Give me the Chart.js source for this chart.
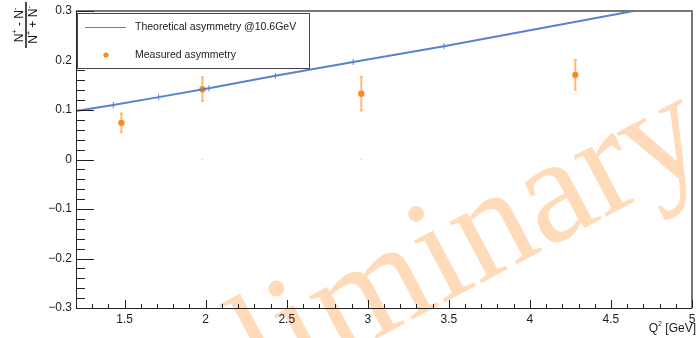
<!DOCTYPE html>
<html>
<head>
<meta charset="utf-8">
<script src="https://cdn.jsdelivr.net/npm/chart.js@4/dist/chart.umd.min.js"></script>
<style>
  html, body { margin: 0; padding: 0; background: #fff; }
  canvas { display: block; }
</style>
</head>
<body>
<canvas id="chart" width="696" height="338"></canvas>
<script>
// theory curve (Q^2 in GeV, asymmetry)
var theoryQ2 = [1.2, 1.43, 1.71, 2.02, 2.43, 2.91, 3.47, 4.64];
var theoryAsym = [0.098, 0.110, 0.126, 0.144, 0.169, 0.197, 0.229, 0.300];
var theoryMarks = [0, 3, 3, 3, 3, 3, 3, 0];

// measured points with their error bars
var measQ2 = [1.48, 1.98, 2.96, 4.28];
var measAsym = [0.074, 0.142, 0.133, 0.171];
var measErr = [0.019, 0.024, 0.034, 0.030];

// faint markers sitting on zero
var zeroQ2 = [1.98, 2.96, 4.28];
var zeroAsym = [0, 0, 0];

var xTickValues = [1.5, 2, 2.5, 3, 3.5, 4, 4.5, 5];
var xTickLabels = ['1.5', '2', '2.5', '3', '3.5', '4', '4.5', '5'];
var yTickValues = [-0.3, -0.2, -0.1, 0, 0.1, 0.2, 0.3];
var yTickLabels = ['\u22120.3', '\u22120.2', '\u22120.1', '0', '0.1', '0.2', '0.3'];

var legendLabels = ['Theoretical asymmetry @10.6GeV', 'Measured asymmetry'];

var SANS = '"Liberation Sans", Arial, sans-serif';
var lineBlue = '#5a80d0';
var dotOrange = '#ff8a1c';

function pts(xs, ys) {
    return xs.map(function(x, i) { return {x: x, y: ys[i]}; });
}

/*
  drawNsup: draws an "N" with a small superscript sign, returns the width used
*/
function drawNsup(ctx, x, y, sign) {
    ctx.font = '12px ' + SANS;
    ctx.fillText('N', x, y);
    var w = ctx.measureText('N').width;
    ctx.font = '7px ' + SANS;
    ctx.fillText(sign, x + w, y - 6);
    return w + ctx.measureText(sign).width;
}

function drawTerm(ctx, cx, y, op) {
    // measure first so the whole term can be centred
    ctx.font = '12px ' + SANS;
    var wN = ctx.measureText('N').width;
    var wOp = ctx.measureText(' ' + op + ' ').width;
    ctx.font = '7px ' + SANS;
    var wP = ctx.measureText('+').width, wM = ctx.measureText('-').width;
    var total = wN + wP + wOp + wN + wM;
    var x = cx - total / 2;
    x += drawNsup(ctx, x, y, '+');
    ctx.font = '12px ' + SANS;
    ctx.fillText(' ' + op + ' ', x, y);
    x += wOp;
    drawNsup(ctx, x, y, '-');
}

var rootStyle = {
    id: 'rootStyle',
    beforeDraw: function(chart) {
        var ctx = chart.ctx;
        ctx.save();
        ctx.fillStyle = '#fff';
        ctx.fillRect(0, 0, chart.width, chart.height);
        // the "Preliminary" stamp across the pad
        ctx.translate(265, 398);
        ctx.rotate(-28 * Math.PI / 180);
        ctx.font = '150px "Liberation Serif", "DejaVu Serif", serif';
        ctx.fillStyle = 'rgba(255, 160, 70, 0.38)';
        ctx.textBaseline = 'alphabetic';
        var pre = ctx.measureText('Pre').width;
        ctx.fillText('Preliminary', -pre, 0);
        ctx.restore();
    },
    beforeDatasetsDraw: function(chart) {
        var ctx = chart.ctx, xs = chart.scales.x, ys = chart.scales.y;
        ctx.save();
        ctx.strokeStyle = 'rgba(255, 140, 30, 0.6)';
        ctx.lineWidth = 2;
        measQ2.forEach(function(q, i) {
            var px = xs.getPixelForValue(q);
            var top = ys.getPixelForValue(measAsym[i] + measErr[i]);
            var bot = ys.getPixelForValue(measAsym[i] - measErr[i]);
            ctx.beginPath();
            ctx.moveTo(px, top); ctx.lineTo(px, bot);
            ctx.moveTo(px - 1.5, top); ctx.lineTo(px + 1.5, top);
            ctx.moveTo(px - 1.5, bot); ctx.lineTo(px + 1.5, bot);
            ctx.stroke();
        });
        ctx.restore();
    },
    afterDraw: function(chart) {
        var ctx = chart.ctx, xs = chart.scales.x, ys = chart.scales.y;
        var a = chart.chartArea;
        ctx.save();

        // frame: top and right in grey
        ctx.strokeStyle = '#777';
        ctx.lineWidth = 2;
        ctx.beginPath();
        ctx.moveTo(a.left, a.top); ctx.lineTo(a.right, a.top); ctx.lineTo(a.right, a.bottom);
        ctx.stroke();

        // axes
        ctx.strokeStyle = '#222';
        ctx.lineWidth = 1;
        ctx.beginPath();
        ctx.moveTo(a.left + 0.5, a.top); ctx.lineTo(a.left + 0.5, a.bottom + 0.5);
        ctx.lineTo(a.right, a.bottom + 0.5);
        ctx.stroke();

        // x ticks, pointing up into the pad
        ctx.beginPath();
        for (var k = 13; k <= 50; k++) {
            var px = Math.round(xs.getPixelForValue(k / 10)) + 0.5;
            var len = (k % 5 === 0) ? 8 : 4;
            ctx.moveTo(px, a.bottom); ctx.lineTo(px, a.bottom - len);
        }
        // y ticks, pointing right
        for (var j = -15; j <= 15; j++) {
            var py = Math.round(ys.getPixelForValue(j / 50)) + 0.5;
            var ylen = (j % 5 === 0) ? 18 : 9;
            ctx.moveTo(a.left, py); ctx.lineTo(a.left + ylen, py);
        }
        ctx.stroke();

        // legend box
        ctx.fillStyle = '#fff';
        ctx.fillRect(77.5, 13.5, 232, 55);
        ctx.strokeStyle = '#444';
        ctx.strokeRect(77.5, 13.5, 232, 55);
        ctx.strokeStyle = lineBlue;
        ctx.lineWidth = 1;
        ctx.beginPath();
        ctx.moveTo(85, 27.5); ctx.lineTo(126, 27.5);
        ctx.stroke();
        ctx.fillStyle = dotOrange;
        ctx.beginPath();
        ctx.arc(106, 55, 2.6, 0, Math.PI * 2);
        ctx.fill();
        ctx.fillStyle = '#1a1a1a';
        ctx.font = '10.5px ' + SANS;
        ctx.textBaseline = 'middle';
        ctx.fillText(legendLabels[0], 135, 27);
        ctx.fillText(legendLabels[1], 135, 55);

        // x title
        ctx.textAlign = 'right';
        ctx.textBaseline = 'alphabetic';
        ctx.font = '12px ' + SANS;
        ctx.fillText('[GeV]', 696, 332);
        var wg = ctx.measureText(' [GeV]').width;
        ctx.fillText('Q', 696 - wg - 4, 332);
        ctx.textAlign = 'left';
        ctx.font = '7px ' + SANS;
        ctx.fillText('2', 696 - wg - 4, 326);

        // y title, a rotated fraction
        ctx.translate(26, 25);
        ctx.rotate(-Math.PI / 2);
        ctx.fillStyle = '#111';
        ctx.strokeStyle = '#111';
        ctx.lineWidth = 1.5;
        ctx.beginPath();
        ctx.moveTo(-23, 0); ctx.lineTo(23, 0);
        ctx.stroke();
        drawTerm(ctx, 0, -3, '-');
        drawTerm(ctx, 0, 11, '+');
        ctx.restore();
    }
};

var chart = new Chart(document.getElementById('chart'), {
    type: 'scatter',
    data: {
        datasets: [
            {
                label: legendLabels[0],
                data: pts(theoryQ2, theoryAsym),
                showLine: true,
                borderColor: lineBlue,
                borderWidth: 2,
                pointStyle: 'line',
                rotation: 90,
                pointRadius: theoryMarks,
                pointBorderColor: lineBlue,
                pointBorderWidth: 1,
                tension: 0
            },
            {
                label: legendLabels[1],
                data: pts(measQ2, measAsym),
                backgroundColor: dotOrange,
                borderWidth: 0,
                pointRadius: 3.2
            },
            {
                label: 'zero',
                data: pts(zeroQ2, zeroAsym),
                backgroundColor: 'rgba(255, 170, 90, 0.35)',
                borderWidth: 0,
                pointRadius: 1.2
            }
        ]
    },
    options: {
        responsive: false,
        animation: false,
        devicePixelRatio: 1,
        layout: {padding: {top: 11, right: 1, left: 0, bottom: 0}},
        plugins: {legend: {display: false}, tooltip: {enabled: false}},
        scales: {
            x: {
                type: 'linear',
                min: 1.2,
                max: 5,
                grid: {display: false, drawTicks: false},
                border: {display: false},
                afterBuildTicks: function(s) {
                    s.ticks = xTickValues.map(function(v) { return {value: v}; });
                },
                afterFit: function(s) {
                    s.height = 30;
                    s.paddingLeft = 0;
                    s.paddingRight = 0;
                },
                ticks: {
                    padding: 4,
                    maxRotation: 0,
                    autoSkip: false,
                    color: '#1a1a2a',
                    font: {family: SANS, size: 12},
                    callback: function(v, i) { return xTickLabels[i]; }
                }
            },
            y: {
                min: -0.3,
                max: 0.3,
                grid: {display: false, drawTicks: false},
                border: {display: false},
                afterBuildTicks: function(s) {
                    s.ticks = yTickValues.map(function(v) { return {value: v}; });
                },
                afterFit: function(s) {
                    s.width = 76;
                    s.paddingTop = 0;
                    s.paddingBottom = 0;
                },
                ticks: {
                    padding: 4,
                    autoSkip: false,
                    color: '#1a1a2a',
                    font: {family: SANS, size: 12},
                    callback: function(v, i) { return yTickLabels[i]; }
                }
            }
        }
    },
    plugins: [rootStyle]
});
</script>
</body>
</html>
